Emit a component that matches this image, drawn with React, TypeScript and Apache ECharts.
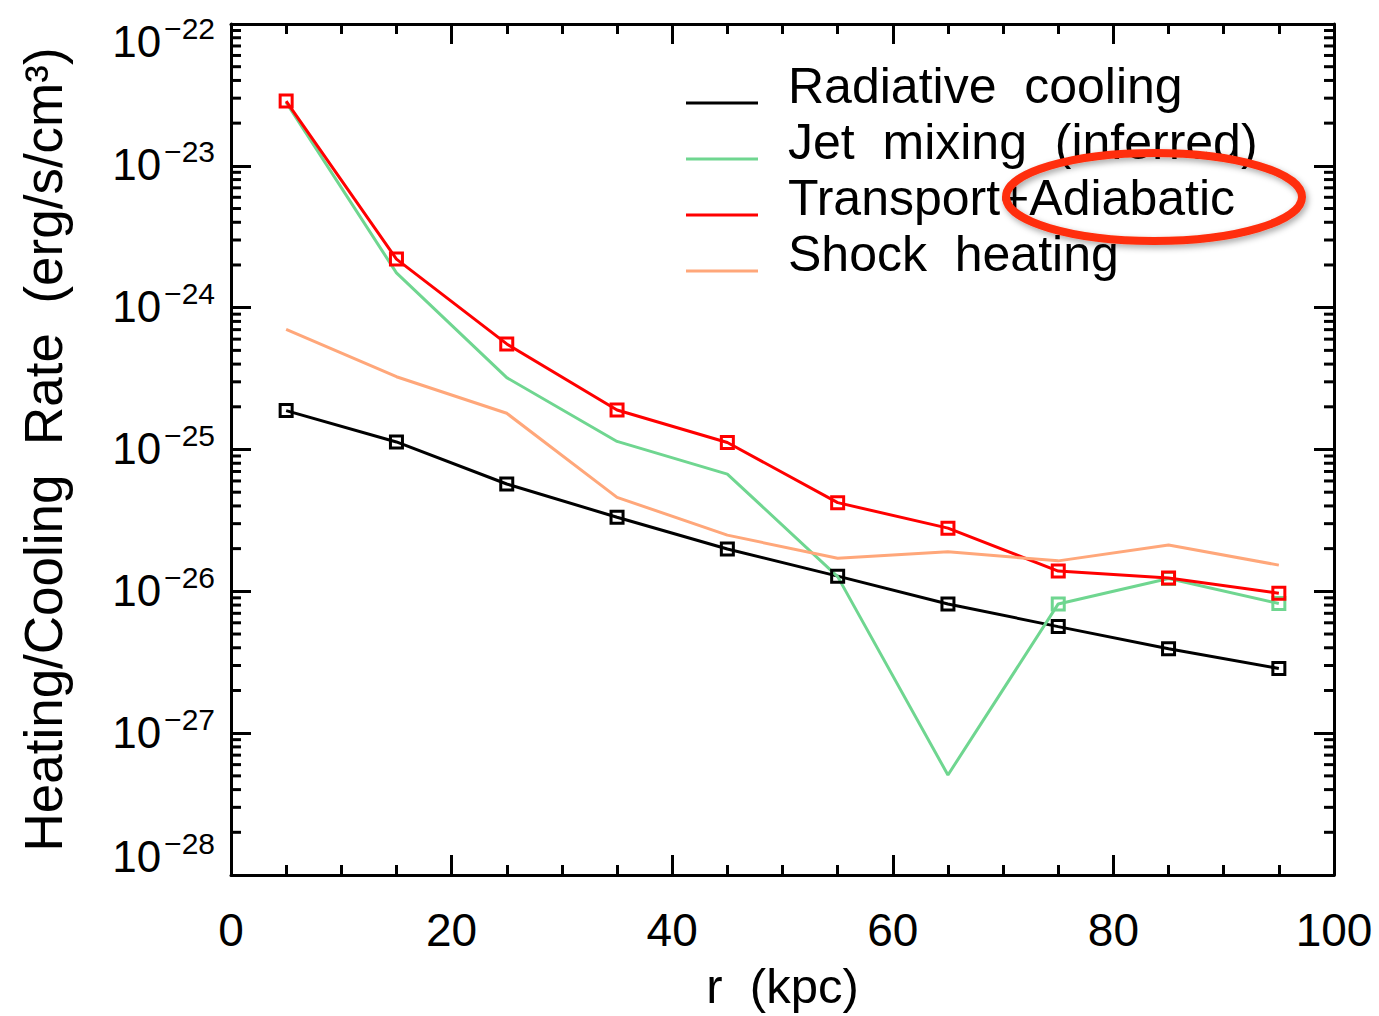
import React, { useEffect, useRef } from 'react';
import * as echarts from 'echarts';

// Radial bins (kpc)
const radii = [5, 15, 25, 35, 45, 55, 65, 75, 85, 95];

// Heating / cooling rates (erg/s/cm^3)
const radiativeCooling = [1.88e-25, 1.13e-25, 5.71e-26, 3.33e-26, 1.99e-26, 1.28e-26, 8.15e-27, 5.64e-27, 3.94e-27, 2.86e-27];
const jetMixing = [2.8e-23, 1.76e-24, 3.21e-25, 1.14e-25, 6.71e-26, 1.27e-26, 5.07e-28, 8.15e-27, 1.23e-26, 8.2e-27];
const transportAdiabatic = [2.86e-23, 2.2e-24, 5.55e-25, 1.9e-25, 1.12e-25, 4.22e-26, 2.79e-26, 1.39e-26, 1.24e-26, 9.7e-27];
const shockHeating = [7.03e-25, 3.26e-25, 1.8e-25, 4.6e-26, 2.49e-26, 1.71e-26, 1.9e-26, 1.64e-26, 2.12e-26, 1.53e-26];

// Jet mixing points are marked from this radius outward
const jetMarkerFrom = 75;

const seriesNames = ['Radiative  cooling', 'Jet  mixing  (inferred)', 'Transport+Adiabatic', 'Shock  heating'];
const seriesColors = ['#000000', '#6fd690', '#ff0000', '#ffa77a'];

const xTitle = 'r  (kpc)';
const yTitle = 'Heating/Cooling  Rate  (erg/s/cm\u00b3)';

// Axis ranges and decade labels
const xMin = 0;
const xMax = 100;
const xStep = 20;
const yMinExp = -28;
const yMaxExp = -22;
const yTickExps = [-22, -23, -24, -25, -26, -27, -28];

const FONT = '"Liberation Sans", Arial, sans-serif';

// Log-axis minor ticks at 2..9 x 10^n
const minorTickValues: number[] = [];
for (let e = yMinExp; e < yMaxExp; e++) {
  for (let k = 2; k <= 9; k++) minorTickValues.push(k * Math.pow(10, e));
}

const pairs = (vals: number[]) => radii.map((r, i) => [r, vals[i]]);

// Plot frame in pixels
const GRID = { left: 231, right: 45, top: 24, bottom: 141 };

export default function App() {
  const ref = useRef<HTMLDivElement>(null);

  useEffect(() => {
    if (!ref.current) return;
    const chart = echarts.init(ref.current, undefined, { renderer: 'svg' });

    const axisLine = { show: true, onZero: false, lineStyle: { color: '#000', width: 3 } };
    const majorTick = { show: true, inside: true, length: 20, lineStyle: { color: '#000', width: 3 } };
    const xMinorTick = { show: true, splitNumber: 4, length: 10, lineStyle: { color: '#000', width: 3 } };

    const lineSeries = (idx: number, vals: number[], symbol: any) => ({
      name: seriesNames[idx],
      type: 'line',
      data: pairs(vals),
      symbol,
      symbolSize: 12,
      showSymbol: true,
      itemStyle: { color: 'rgba(0,0,0,0)', borderColor: seriesColors[idx], borderWidth: 3 },
      lineStyle: { color: seriesColors[idx], width: 3 },
      emphasis: { disabled: true },
      z: 3,
    });

    const plotH = 1016 - GRID.top - GRID.bottom;
    const base = { color: '#000', fontFamily: FONT };
    const decadeRich = {
      b: { ...base, fontSize: 44, lineHeight: 58, verticalAlign: 'bottom', padding: [0, 0, 8, 0] },
      s: { ...base, fontSize: 30, lineHeight: 28, verticalAlign: 'top', padding: [0, 0, 8, 3] },
    };

    const logAxis = (position: string) => ({
      type: 'log', logBase: 10, min: Math.pow(10, yMinExp), max: Math.pow(10, yMaxExp), splitNumber: 6,
      position, axisLine, axisTick: majorTick, splitLine: { show: false },
      axisLabel: { show: false },
    });

    chart.setOption({
      animation: false,
      backgroundColor: '#fff',
      textStyle: { fontFamily: FONT },
      grid: { ...GRID, outerBoundsMode: 'none', containLabel: false },
      xAxis: [
        {
          type: 'value', min: xMin, max: xMax, interval: xStep, position: 'bottom',
          axisLine, axisTick: majorTick, minorTick: xMinorTick,
          splitLine: { show: false }, minorSplitLine: { show: false },
          axisLabel: { color: '#000', fontSize: 46, fontFamily: FONT, margin: 32, showMinLabel: true, showMaxLabel: true },
          name: xTitle, nameLocation: 'middle', nameGap: 86,
          nameTextStyle: { color: '#000', fontSize: 49, fontFamily: FONT },
        },
        {
          type: 'value', min: xMin, max: xMax, interval: xStep, position: 'top',
          axisLine, axisTick: majorTick, minorTick: xMinorTick,
          splitLine: { show: false }, axisLabel: { show: false },
        },
      ],
      yAxis: [logAxis('left'), logAxis('right')],
      legend: {
        orient: 'vertical', left: 686, top: 61, padding: 0, itemGap: -28,
        itemWidth: 72, itemHeight: 3, icon: 'rect', selectedMode: false,
        formatter: (name: string) => `{t|${name}}`,
        textStyle: {
          color: '#000', fontSize: 50, fontFamily: FONT,
          rich: {
            t: { fontSize: 50, lineHeight: 28, padding: [0, 0, 34, 25], color: '#000', fontFamily: FONT },
          },
        },
        data: seriesNames.map((n, i) => ({ name: n, itemStyle: { color: seriesColors[i], borderWidth: 0 } })),
      },
      series: [
        lineSeries(0, radiativeCooling, 'rect'),
        lineSeries(1, jetMixing, (val: number[]) => (val[0] >= jetMarkerFrom ? 'rect' : 'none')),
        lineSeries(2, transportAdiabatic, 'rect'),
        lineSeries(3, shockHeating, 'none'),
        // Minor ticks of the log axes (left and right frame edges)
        {
          type: 'custom',
          silent: true,
          z: 5,
          data: minorTickValues.map((v) => [xMin, v]),
          renderItem: (_p: any, api: any) => {
            const v = api.value(1);
            const l = api.coord([xMin, v]);
            const r = api.coord([xMax, v]);
            const st = { stroke: '#000', lineWidth: 3 };
            return {
              type: 'group',
              children: [
                { type: 'line', shape: { x1: l[0], y1: l[1], x2: l[0] + 10, y2: l[1] }, style: st },
                { type: 'line', shape: { x1: r[0], y1: r[1], x2: r[0] - 10, y2: r[1] }, style: st },
              ],
            };
          },
        },
        // Decade labels 10^n on the left axis; the end labels are kept inside the frame height
        {
          type: 'custom',
          silent: true,
          z: 5,
          clip: false,
          data: yTickExps.map((e) => [xMin, Math.pow(10, e), e]),
          renderItem: (_p: any, api: any) => {
            const e = api.value(2);
            const p = api.coord([xMin, api.value(1)]);
            const dy = e === yMaxExp ? 18 : e === yMinExp ? -18 : 0;
            return {
              type: 'text',
              x: p[0] - 16,
              y: p[1] + dy,
              style: {
                text: `{b|10}{s|\u2212${Math.abs(e)}}`,
                rich: decadeRich,
                align: 'right',
                verticalAlign: 'middle',
              },
            };
          },
        },
      ],
      graphic: [
        {
          type: 'text',
          x: 43,
          y: GRID.top + plotH / 2,
          rotation: Math.PI / 2,
          style: {
            text: yTitle, fontSize: 53, fontFamily: FONT, fill: '#000',
            align: 'center', verticalAlign: 'middle',
          },
        },
        {
          type: 'ellipse',
          shape: { cx: 1154, cy: 197, rx: 148, ry: 44 },
          style: {
            fill: 'none', stroke: '#ff2d0a', lineWidth: 8,
            shadowBlur: 6, shadowColor: 'rgba(0,0,0,0.35)', shadowOffsetX: 2, shadowOffsetY: 3,
          },
          z: 100,
        },
      ],
    });

    return () => chart.dispose();
  }, []);

  return (
    <div
      ref={ref}
      style={{ position: 'absolute', left: 0, top: 0, width: 1379, height: 1016, background: '#fff' }}
    />
  );
}
